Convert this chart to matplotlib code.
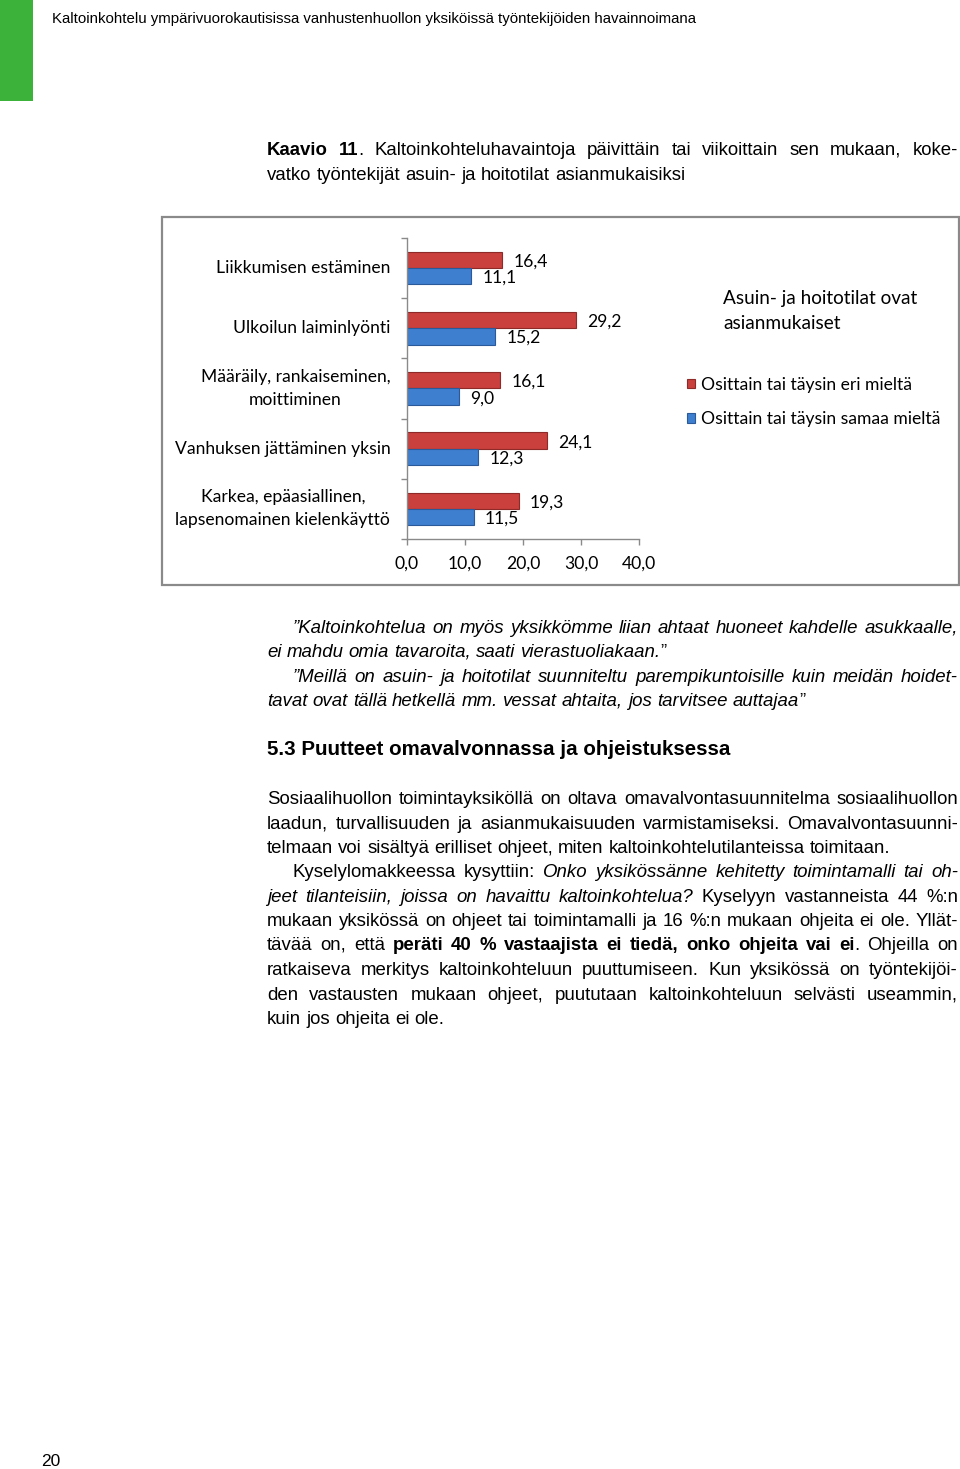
import re
import numpy as np
import matplotlib
matplotlib.use("Agg")
import matplotlib.pyplot as plt
from matplotlib.patches import Rectangle
from matplotlib.ticker import FixedLocator
from matplotlib.font_manager import FontProperties

try:
    from matplotlib.backends.backend_agg import get_hinting_flag
except Exception:  # pragma: no cover
    get_hinting_flag = None

# ---------------- data ----------------
categories = [
    "Liikkumisen estäminen",
    "Ulkoilun laiminlyönti",
    "Määräily, rankaiseminen,\nmoittiminen",
    "Vanhuksen jättäminen yksin",
    "Karkea, epäasiallinen,\nlapsenomainen kielenkäyttö",
]
disagree = [16.4, 29.2, 16.1, 24.1, 19.3]   # Osittain tai täysin eri mieltä (red)
agree = [11.1, 15.2, 9.0, 12.3, 11.5]       # Osittain tai täysin samaa mieltä (blue)
series_names = ["Osittain tai täysin eri mieltä", "Osittain tai täysin samaa mieltä"]
x_ticks = [0, 10, 20, 30, 40]
x_tick_labels = ["0,0", "10,0", "20,0", "30,0", "40,0"]
legend_title = "Asuin- ja hoitotilat ovat\nasianmukaiset"

header_text = "Kaltoinkohtelu ympärivuorokautisissa vanhustenhuollon yksiköissä työntekijöiden havainnoimana"
caption_lines = [
    [("b", "Kaavio 11"), ("n", ". Kaltoinkohteluhavaintoja päivittäin tai viikoittain sen mukaan, koke-")],
    [("n", "vatko työntekijät asuin- ja hoitotilat asianmukaisiksi")],
]
quote_lines = [
    [("i", "”Kaltoinkohtelua on myös yksikkömme liian ahtaat huoneet kahdelle asukkaalle,")],
    [("i", "ei mahdu omia tavaroita, saati vierastuoliakaan."), ("n", "”")],
    [("i", "”Meillä on asuin- ja hoitotilat suunniteltu parempikuntoisille kuin meidän hoidet-")],
    [("i", "tavat ovat tällä hetkellä mm. vessat ahtaita, jos tarvitsee auttajaa"), ("n", "”")],
]
heading_text = "5.3 Puutteet omavalvonnassa ja ohjeistuksessa"
body_lines = [
    [("n", "Sosiaalihuollon toimintayksiköllä on oltava omavalvontasuunnitelma sosiaalihuollon")],
    [("n", "laadun, turvallisuuden ja asianmukaisuuden varmistamiseksi. Omavalvontasuunni-")],
    [("n", "telmaan voi sisältyä erilliset ohjeet, miten kaltoinkohtelutilanteissa toimitaan.")],
    [("n", "Kyselylomakkeessa kysyttiin: "), ("i", "Onko yksikössänne kehitetty toimintamalli tai oh-")],
    [("i", "jeet tilanteisiin, joissa on havaittu kaltoinkohtelua?"), ("n", " Kyselyyn vastanneista 44 %:n")],
    [("n", "mukaan yksikössä on ohjeet tai toimintamalli ja 16 %:n mukaan ohjeita ei ole. Yllät-")],
    [("n", "tävää on, että "), ("b", "peräti 40 % vastaajista ei tiedä, onko ohjeita vai ei"), ("n", ". Ohjeilla on")],
    [("n", "ratkaiseva merkitys kaltoinkohteluun puuttumiseen. Kun yksikössä on työntekijöi-")],
    [("n", "den vastausten mukaan ohjeet, puututaan kaltoinkohteluun selvästi useammin,")],
    [("n", "kuin jos ohjeita ei ole.")],
]
page_number = "20"

# ---------------- page ----------------
W, H = 960, 1469
fig = plt.figure(figsize=(W / 100, H / 100), dpi=100)
renderer = fig.canvas.get_renderer()


def fx(px):
    return px / W


def fy(py):
    return 1 - py / H


BODY = "Liberation Sans"
CHART = "Lato"
STYLE = {"n": {}, "i": {"fontstyle": "italic"}, "b": {"fontweight": "bold"}}
BS = 13.4  # body font size


def text_width(s, size, style):
    t = fig.text(0, 0, s, fontsize=size, family=BODY, **STYLE[style])
    w = t.get_window_extent(renderer).width
    t.remove()
    return w


def snapped_baseline(s, size, style, target):
    """Baseline (px from top) so that the rasterised glyph baseline lands on `target`."""
    try:
        fp = FontProperties(family=BODY, size=size, **{
            "style": STYLE[style].get("fontstyle", "normal"),
            "weight": STYLE[style].get("fontweight", "normal")})
        font = renderer._prepare_font(fp)
        font.set_text(s, 0, flags=get_hinting_flag())
        desc = font.get_descent()
        _, hh = font.get_width_height()
        ymax = hh - desc
        k = ymax // 64 - hh // 64
        return target - k - desc / 64.0 + 0.01
    except Exception:
        return target


def draw_line(segs, x0, x1, ybase, size, justify):
    runs = []
    for style, txt in segs:
        for p in re.split(r"( )", txt):
            if p == " ":
                runs.append(None)
            elif p:
                runs.append((p, style))
    widths = [text_width(r[0], size, r[1]) if r else 0 for r in runs]
    ngaps = sum(1 for r in runs if r is None)
    space = text_width("n n", size, "n") - text_width("nn", size, "n")
    if justify and ngaps:
        gap = max((x1 - x0 - sum(widths)) / ngaps, 0.5 * space)
    else:
        gap = space
    x = x0
    for r, w in zip(runs, widths):
        if r is None:
            x += gap
        else:
            yb = snapped_baseline(r[0], size, r[1], ybase)
            fig.text(fx(x), fy(yb), r[0], fontsize=size, family=BODY,
                     va="baseline", ha="left", **STYLE[r[1]])
            x += w


# green tab and running header
fig.patches.append(Rectangle((0, fy(101)), fx(33), 101 / H, transform=fig.transFigure,
                             facecolor="#3db23a", edgecolor="none"))
fig.text(fx(52), fy(23), header_text, fontsize=10.8, family=BODY, va="baseline", ha="left")

# caption
draw_line(caption_lines[0], 267, 958, 155, BS, True)
draw_line(caption_lines[1], 267, 958, 180, BS, False)

# chart frame
fig.patches.append(Rectangle((fx(162), fy(585)), fx(959 - 162), (585 - 217) / H,
                             transform=fig.transFigure, facecolor="none",
                             edgecolor="#8a8a8a", linewidth=1.6))

CS = 12.6  # chart font size
ax = fig.add_axes([fx(407), fy(539), fx(639 - 407), (539 - 238) / H])
y = np.arange(len(categories))
h = 0.27
red_c, blue_c = "#c9403d", "#3f7fcf"
b1 = ax.barh(y - h / 2, disagree, height=h, color=red_c, edgecolor="#8e2a28", linewidth=0.8)
b2 = ax.barh(y + h / 2, agree, height=h, color=blue_c, edgecolor="#2a5a99", linewidth=0.8)
for bars, vals in ((b1, disagree), (b2, agree)):
    for rect, v in zip(bars, vals):
        ax.annotate(f"{v:.1f}".replace(".", ","),
                    (rect.get_width(), rect.get_y() + rect.get_height() / 2),
                    xytext=(8, -1.2), textcoords="offset points", va="center", ha="left",
                    fontsize=CS, family=CHART)
ax.set_xlim(0, 40)
ax.set_ylim(len(categories) - 0.5, -0.5)
ax.xaxis.set_major_locator(FixedLocator(x_ticks))
ax.set_xticklabels(x_tick_labels, fontsize=CS, family=CHART)
ax.set_yticks(y)
ax.set_yticklabels(categories, fontsize=CS, family=CHART, multialignment="center")
for t in ax.get_yticklabels():
    t.set_linespacing(1.55)
    t.set_verticalalignment("center")
ax.yaxis.set_minor_locator(FixedLocator(np.arange(-0.5, len(categories), 1.0)))
ax.tick_params(axis="y", which="major", length=0, pad=12)
ax.tick_params(axis="y", which="minor", length=4, color="#8a8a8a", width=1)
ax.tick_params(axis="x", length=4, color="#8a8a8a", width=1, pad=8)
for s in ("top", "right"):
    ax.spines[s].set_visible(False)
for s in ("left", "bottom"):
    ax.spines[s].set_color("#8a8a8a")
    ax.spines[s].set_linewidth(1)

fig.text(fx(723), fy(311), legend_title, fontsize=13.7, family=CHART, va="center",
         ha="left", linespacing=1.55)
fig.legend([b1, b2], series_names, loc="upper left", bbox_to_anchor=(fx(687), fy(377)),
           frameon=False, prop={"family": CHART, "size": CS}, handlelength=0.45,
           handleheight=0.45, handletextpad=0.35, labelspacing=1.05, borderpad=0,
           borderaxespad=0)

# quotes
draw_line(quote_lines[0], 293, 958, 633, BS, True)
draw_line(quote_lines[1], 267, 958, 657, BS, False)
draw_line(quote_lines[2], 293, 958, 682, BS, True)
draw_line(quote_lines[3], 267, 958, 706, BS, False)

# heading
fig.text(fx(267), fy(755), heading_text, fontsize=14.8, family=BODY, fontweight="bold",
         va="baseline", ha="left")

# body paragraphs
base_y = [804, 829, 853, 877, 902, 926, 950, 975, 1000, 1024]
indent = {3: 293}
last = {2, 9}
for i, (segs, yb) in enumerate(zip(body_lines, base_y)):
    draw_line(segs, indent.get(i, 267), 958, yb, BS, i not in last)

fig.text(fx(41), fy(1466), page_number, fontsize=12.5, family=BODY, va="baseline", ha="left")

fig.savefig("out.png", dpi=100)
